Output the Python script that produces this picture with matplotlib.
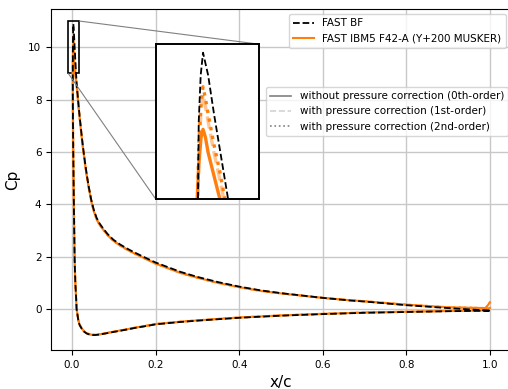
import matplotlib
matplotlib.use("Agg")
import matplotlib.pyplot as plt
import numpy as np
from mpl_toolkits.axes_grid1.inset_locator import mark_inset

# FAST BF (body fitted), x/c and Cp
# lower side, from trailing edge to the leading edge tip
bf_lower_x = [1.0, 0.9, 0.8, 0.7, 0.6, 0.5, 0.4, 0.3, 0.26, 0.2, 0.187, 0.15, 0.131, 0.1,
              0.08, 0.067, 0.055, 0.047, 0.04, 0.035, 0.029, 0.023, 0.018, 0.015, 0.013,
              0.011, 0.0096, 0.008, 0.007, 0.0062, 0.0053, 0.0045, 0.0037, 0.003, 0.0024,
              0.002, 0.0019, 0.0021, 0.0026, 0.0032]
bf_lower_cp = [-0.06, -0.08, -0.11, -0.14, -0.19, -0.25, -0.33, -0.44, -0.49, -0.58, -0.62,
               -0.72, -0.78, -0.87, -0.93, -0.97, -0.99, -0.99, -0.96, -0.93, -0.86, -0.74,
               -0.6, -0.42, -0.2, 0.0, 0.5, 1.0, 1.5, 2.0, 3.0, 4.0, 5.0, 6.0, 7.0, 8.0,
               9.0, 10.0, 10.6, 10.89]
# upper side, from the tip to the trailing edge
bf_upper_x = [0.0032, 0.0045, 0.006, 0.0078, 0.0096, 0.012, 0.015, 0.018, 0.021, 0.024,
              0.028, 0.032, 0.036, 0.04, 0.046, 0.052, 0.059, 0.066, 0.075, 0.085, 0.099,
              0.115, 0.131, 0.145, 0.163, 0.18, 0.2, 0.23, 0.26, 0.3, 0.35, 0.4, 0.45,
              0.5, 0.6, 0.665, 0.7, 0.8, 0.9, 1.0]
bf_upper_cp = [10.89, 10.6, 10.1, 9.55, 9.0, 8.45, 7.9, 7.4, 6.95, 6.5, 5.98, 5.5, 5.07,
               4.68, 4.18, 3.8, 3.48, 3.27, 3.07, 2.87, 2.65, 2.47, 2.32, 2.2, 2.06, 1.93,
               1.78, 1.6, 1.42, 1.23, 1.03, 0.86, 0.72, 0.61, 0.43, 0.33, 0.29, 0.15,
               0.04, -0.06]

# FAST IBM5 F42-A, three pressure correction orders (same body, differ near LE / TE)
ibm_lower_x = [1.0, 0.99, 0.9, 0.8, 0.7, 0.6, 0.5, 0.4, 0.3, 0.26, 0.2, 0.187, 0.15, 0.131,
               0.1, 0.08, 0.067, 0.055, 0.047, 0.04, 0.035, 0.029, 0.023, 0.018, 0.015,
               0.013, 0.011, 0.0096, 0.008, 0.007, 0.0062, 0.0053, 0.0045, 0.0037, 0.003]
ibm_lower_cp = [0.05, -0.05, -0.07, -0.1, -0.13, -0.18, -0.24, -0.32, -0.43, -0.48, -0.57,
                -0.61, -0.71, -0.77, -0.86, -0.92, -0.96, -0.98, -0.98, -0.95, -0.92,
                -0.85, -0.73, -0.59, -0.41, -0.19, 0.01, 0.5, 1.0, 1.5, 2.0, 3.0, 4.0,
                5.0, 6.0]
ibm_upper_x = [0.015, 0.018, 0.021, 0.024, 0.028, 0.032, 0.036, 0.04, 0.046, 0.052, 0.059,
               0.066, 0.075, 0.085, 0.099, 0.115, 0.131, 0.145, 0.163, 0.18, 0.2, 0.23,
               0.26, 0.3, 0.35, 0.4, 0.45, 0.5, 0.6, 0.665, 0.7, 0.8, 0.9, 0.99, 1.0]
ibm_upper_cp = [7.85, 7.35, 6.9, 6.45, 5.93, 5.45, 5.02, 4.63, 4.13, 3.75, 3.43, 3.22,
                3.03, 2.83, 2.61, 2.43, 2.28, 2.16, 2.02, 1.89, 1.74, 1.56, 1.38, 1.2,
                1.0, 0.84, 0.7, 0.6, 0.43, 0.34, 0.3, 0.17, 0.07, 0.04, 0.26]

# leading edge tip, per order
le0_x = [0.0024, 0.002, 0.0017, 0.0022, 0.0027, 0.0032, 0.0038, 0.0045, 0.0055, 0.0065,
         0.0075, 0.0095, 0.012]
le0_cp = [7.0, 8.0, 9.0, 9.5, 9.8, 9.9, 9.8, 9.6, 9.4, 9.2, 9.0, 8.7, 8.4]
le1_x = [0.0024, 0.002, 0.0018, 0.0022, 0.0027, 0.0032, 0.0038, 0.0045, 0.006, 0.0075,
         0.0085, 0.010, 0.012]
le1_cp = [7.0, 8.0, 9.0, 9.7, 10.15, 10.35, 10.2, 10.0, 9.6, 9.25, 9.0, 8.7, 8.4]
le2_x = [0.0024, 0.002, 0.0018, 0.0022, 0.0027, 0.0032, 0.0038, 0.0045, 0.006, 0.0075,
         0.0088, 0.010, 0.012]
le2_cp = [7.0, 8.0, 9.0, 9.8, 10.25, 10.45, 10.3, 10.1, 9.7, 9.35, 9.0, 8.75, 8.4]

orange = '#ff7f0e'

fig = plt.figure(figsize=(5.08, 3.89), dpi=100)
ax = fig.add_axes([0.1006, 0.1003, 0.905, 0.8766])
axins = fig.add_axes([0.3065, 0.4884, 0.2033, 0.398])


def draw(a, lw_scale=1.0):
    styles = [('-', 1.0, le0_x, le0_cp), ('--', 0.45, le1_x, le1_cp), (':', 1.0, le2_x, le2_cp)]
    for ls, al, lx, lc in styles:
        xs = ibm_lower_x + lx + ibm_upper_x
        cs = ibm_lower_cp + lc + ibm_upper_cp
        a.plot(xs, cs, color=orange, ls=ls, alpha=al, lw=1.5 * lw_scale)
    a.plot(bf_lower_x + bf_upper_x, bf_lower_cp + bf_upper_cp, 'k--', lw=1.3)


draw(ax)
draw(axins, lw_scale=1.6)

ax.set_xlim(-0.05, 1.05)
ax.set_ylim(-1.56, 11.46)
ax.set_xticks([0.0, 0.2, 0.4, 0.6, 0.8, 1.0])
ax.set_yticks([0, 2, 4, 6, 8, 10])
ax.tick_params(labelsize=7.5)
ax.set_xlabel('x/c', fontsize=11)
ax.set_ylabel('Cp', fontsize=11, labelpad=6)
ax.grid(True, color='#c8c8c8', lw=1)
ax.set_axisbelow(True)

axins.set_xlim(-0.0089, 0.0175)
axins.set_ylim(9, 11)
axins.set_xticks([])
axins.set_yticks([])
for s in axins.spines.values():
    s.set_linewidth(1.4)
    s.set_color('k')

pp, p1, p2 = mark_inset(ax, axins, loc1=1, loc2=3, fc='none', ec='0.5', lw=0.8)
pp.set_edgecolor('k')
pp.set_linewidth(1.2)

h1 = [plt.Line2D([], [], color='k', ls='--', lw=1.3),
      plt.Line2D([], [], color=orange, lw=1.5)]
leg1 = ax.legend(h1, ['FAST BF', 'FAST IBM5 F42-A (Y+200 MUSKER)'], loc='upper right',
                 fontsize=7.5)
ax.add_artist(leg1)
h2 = [plt.Line2D([], [], color='gray', ls='-', lw=1.2),
      plt.Line2D([], [], color='lightgray', ls='--', lw=1.2),
      plt.Line2D([], [], color='gray', ls=':', lw=1.2)]
ax.legend(h2, ['without pressure correction (0th-order)',
               'with pressure correction (1st-order)',
               'with pressure correction (2nd-order)'],
          loc='upper right', bbox_to_anchor=(0.994, 0.771), borderaxespad=0, fontsize=7.5)

fig.savefig('out.png', dpi=100)
